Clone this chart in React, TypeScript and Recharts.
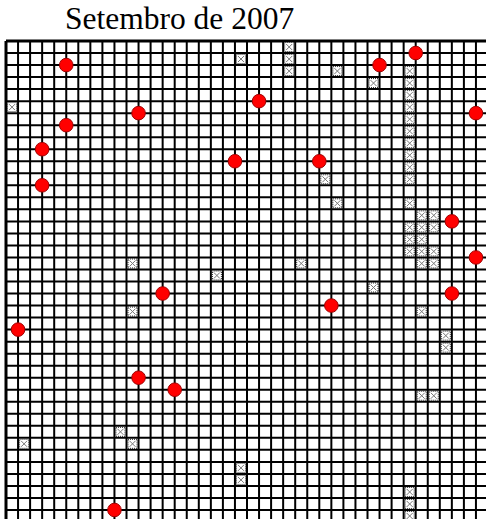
import {
  ScatterChart,
  Scatter,
  XAxis,
  YAxis,
  CartesianGrid,
  ReferenceLine,
} from "recharts";

// 40 x 40 board, column/row indices counted from the top-left corner
const gridTicks = Array.from({ length: 41 }, (_, i) => i);

// red stones sit on line intersections: [column, row]
const redStones: [number, number][] = [
  [5, 2], [34, 1], [31, 2], [21, 5], [11, 6], [39, 6], [5, 7], [3, 9],
  [19, 10], [26, 10], [3, 12], [37, 15], [39, 18], [13, 21], [37, 21],
  [27, 22], [1, 24], [11, 28], [14, 29], [9, 39],
];

// crossed squares fill whole cells: [column, row]
const crossedCells: [number, number][] = [
  [0, 5], [19, 1], [23, 0], [23, 1], [23, 2], [27, 2], [30, 3],
  [33, 2], [33, 3], [33, 4], [33, 5], [33, 6], [33, 7], [33, 8], [33, 9],
  [33, 10], [33, 11], [26, 11], [27, 13], [33, 13],
  [34, 14], [35, 14], [33, 15], [34, 15], [35, 15], [33, 16], [34, 16],
  [33, 17], [34, 17], [35, 17], [34, 18], [35, 18],
  [10, 18], [17, 19], [24, 18], [30, 20], [10, 22], [34, 22], [36, 24],
  [36, 25], [34, 29], [35, 29], [9, 32], [10, 33], [1, 33], [19, 35],
  [19, 36], [33, 37], [33, 38], [33, 39],
];

const title = "Setembro de 2007";

const stoneData = redStones.map(([c, r]) => ({ x: c, y: r }));
const cellData = crossedCells.map(([c, r]) => ({ x: c + 0.5, y: r + 0.5 }));

const RedStone = (props: any) => {
  const { cx, cy } = props;
  return <circle cx={cx} cy={cy} r={6.8} fill="#ff0000" stroke="#a00000" strokeWidth={1} />;
};

const CrossedCell = (props: any) => {
  const { cx, cy } = props;
  const h = 4.5;
  return (
    <g>
      <rect x={cx - h} y={cy - h} width={h * 2} height={h * 2} fill="#fff" stroke="#222" strokeDasharray="1 1" />
      <line x1={cx - 3} y1={cy - 3} x2={cx + 3} y2={cy + 3} stroke="#777" strokeWidth={1} />
      <line x1={cx + 3} y1={cy - 3} x2={cx - 3} y2={cy + 3} stroke="#777" strokeWidth={1} />
    </g>
  );
};

export default function App() {
  return (
    <div
      style={{
        position: "fixed",
        left: 0,
        top: 0,
        width: 486,
        height: 519,
        overflow: "hidden",
        background: "#fff",
      }}
    >
      <div
        style={{
          position: "absolute",
          left: 65,
          top: 0,
          fontFamily: "'Liberation Serif', 'Times New Roman', serif",
          fontSize: 31.5,
          lineHeight: "38px",
          color: "#000",
          whiteSpace: "nowrap",
        }}
      >
        {title}
      </div>
      <ScatterChart
        width={500}
        height={530}
        margin={{ top: 41, left: 6, right: 12, bottom: 8 }}
      >
        <XAxis type="number" dataKey="x" domain={[0, 40]} ticks={gridTicks} interval={0} hide />
        <YAxis type="number" dataKey="y" domain={[0, 40]} ticks={gridTicks} interval={0} reversed hide />
        <CartesianGrid stroke="#000" strokeWidth={2} />
        <ReferenceLine x={0} stroke="#000" strokeWidth={3} />
        <ReferenceLine y={0} stroke="#000" strokeWidth={3} />
        <Scatter data={cellData} shape={CrossedCell} isAnimationActive={false} />
        <Scatter data={stoneData} shape={RedStone} isAnimationActive={false} />
      </ScatterChart>
    </div>
  );
}
